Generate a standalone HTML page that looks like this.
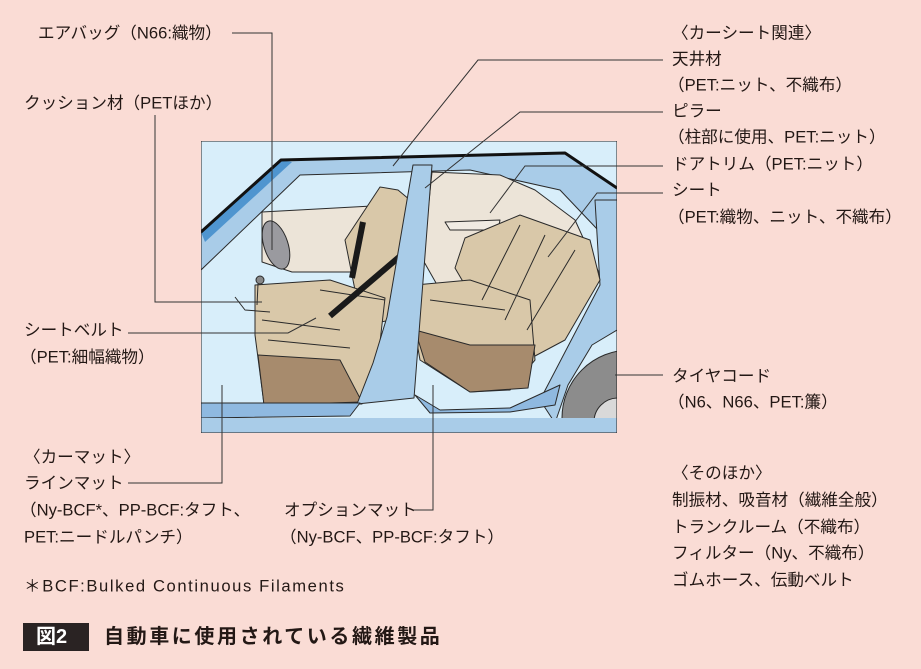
<!DOCTYPE html>
<html><head><meta charset="utf-8"><style>
html,body{margin:0;padding:0;background:#fadcd5;}
svg{display:block}
text{font-family:"Liberation Sans","Noto Sans CJK JP",sans-serif;font-size:16.6px;fill:#231815;dominant-baseline:central;letter-spacing:0px}
</style></head><body>
<svg width="921" height="669" viewBox="0 0 921 669" xmlns="http://www.w3.org/2000/svg">
<rect width="921" height="669" fill="#fadcd5"/>
<defs><clipPath id="c"><rect x="201" y="141" width="416" height="292"/></clipPath></defs>
<g clip-path="url(#c)" stroke="#2a2a2a" stroke-width="1" stroke-linejoin="round">
<rect x="201" y="141" width="416" height="292" fill="#d8eefa" stroke="none"/>
<polygon points="201,232 281,160 565,153 617,188 617,250 560,190 470,170 300,175 201,270" fill="#a9cce8"/>
<polygon points="201,232 281,160 292,162 205,242" fill="#4f95cf" stroke="none"/>
<polyline points="201,232 281,160 565,153 617,188" fill="none" stroke="#111" stroke-width="3"/>
<polygon points="262,212 372,206 366,272 292,272 262,262" fill="#ece4d8"/>
<ellipse cx="276" cy="245" rx="12" ry="25" transform="rotate(-18 276 245)" fill="#9a9a9f"/>
<polygon points="432,172 500,175 535,190 575,220 600,275 555,300 440,290 423,260" fill="#ece4d8"/>
<polygon points="445,222 500,220 498,230 450,230" fill="#f0ebe3"/>
<polygon points="595,200 617,200 617,330 592,345 568,385 555,423 540,400 600,285" fill="#a9cce8"/>
<circle cx="630" cy="418" r="68" fill="#8c8c8c"/>
<circle cx="618" cy="422" r="24" fill="#d9d9d9"/>
<polygon points="465,238 520,215 590,240 600,280 565,340 535,356 500,345 455,268" fill="#d9c8a9"/>
<polygon points="415,285 470,280 530,300 535,360 510,390 470,392 420,360 413,320" fill="#d9c8a9"/>
<polygon points="415,330 470,345 535,345 528,388 470,392 425,362" fill="#a78b6d"/>
<path d="M482,300 L520,225 M505,320 L545,235 M527,330 L575,250 M430,300 L505,310" fill="none"/>
<polygon points="345,240 380,187 398,190 410,200 410,262 392,320 362,325" fill="#d9c8a9"/>
<polygon points="255,285 330,280 385,298 378,360 362,404 264,404 255,335" fill="#d9c8a9"/>
<polygon points="258,355 340,360 362,402 264,405" fill="#a78b6d"/>
<path d="M262,320 L340,330 M268,340 L350,348 M320,290 L385,300" fill="none"/>
<path d="M363,222 L352,278 M405,252 L330,316" fill="none" stroke="#1a1a1a" stroke-width="6"/>
<circle cx="260" cy="280" r="4" fill="#888"/>
<path d="M258,284 L257,305 M235,297 L245,310 L270,312" fill="none"/>
<polygon points="413,165 432,165 420,320 414,398 357,404 373,363 387,317" fill="#a9cce8"/>
<polygon points="201,403 360,403 350,416 201,418" fill="#8fb9e0"/>
<polygon points="201,418 617,418 617,433 201,433" fill="#a9cce8" stroke="none"/>
<polygon points="415,395 440,410 510,408 560,385 555,405 510,412 430,413" fill="#8fb9e0"/>
<rect x="201" y="141" width="416" height="292" fill="none" stroke="#222"/>
</g>
<g stroke="#333" stroke-width="1" fill="none">
<polyline points="232,33 272,33 272,250"/>
<polyline points="155,115 155,302 262,302"/>
<polyline points="663,60 478,60 393,166"/>
<polyline points="663,112 520,112 425,188"/>
<polyline points="663,166 525,166 490,213"/>
<polyline points="663,193 597,193 548,257"/>
<polyline points="128,333 288,333 316,318"/>
<polyline points="615,375 663,375"/>
<polyline points="128,483 222,483 222,385"/>
<polyline points="412,510 433,510 433,385"/>
</g>
<text x="38" y="33">エアバッグ（N66:織物）</text>
<text x="24" y="103">クッション材（PETほか）</text>
<text x="672" y="33">〈カーシート関連〉</text>
<text x="672" y="59">天井材</text>
<text x="668" y="85">（PET:ニット、不織布）</text>
<text x="672" y="111">ピラー</text>
<text x="668" y="137">（柱部に使用、PET:ニット）</text>
<text x="672" y="164">ドアトリム（PET:ニット）</text>
<text x="672" y="190">シート</text>
<text x="668" y="217">（PET:織物、ニット、不織布）</text>
<text x="24" y="330">シートベルト</text>
<text x="20" y="357">（PET:細幅織物）</text>
<text x="672" y="376">タイヤコード</text>
<text x="668" y="402">（N6、N66、PET:簾）</text>
<text x="24" y="457">〈カーマット〉</text>
<text x="24" y="483">ラインマット</text>
<text x="20" y="510">（Ny-BCF*、PP-BCF:タフト、</text>
<text x="24" y="537">PET:ニードルパンチ）</text>
<text x="284" y="510">オプションマット</text>
<text x="280" y="537">（Ny-BCF、PP-BCF:タフト）</text>
<text x="672" y="473">〈そのほか〉</text>
<text x="672" y="500">制振材、吸音材（繊維全般）</text>
<text x="672" y="527">トランクルーム（不織布）</text>
<text x="672" y="553">フィルター（Ny、不織布）</text>
<text x="672" y="580">ゴムホース、伝動ベルト</text>
<text x="24" y="586" style="letter-spacing:1.6px">＊BCF:Bulked Continuous Filaments</text>
<rect x="23" y="623" width="66" height="28" fill="#2a2323"/>
<text x="36" y="637" style="fill:#fff;font-weight:bold;font-size:20px">図2</text>
<text x="104" y="637" style="font-weight:bold;font-size:20px;letter-spacing:2.6px">自動車に使用されている繊維製品</text>
</svg>
</body></html>
